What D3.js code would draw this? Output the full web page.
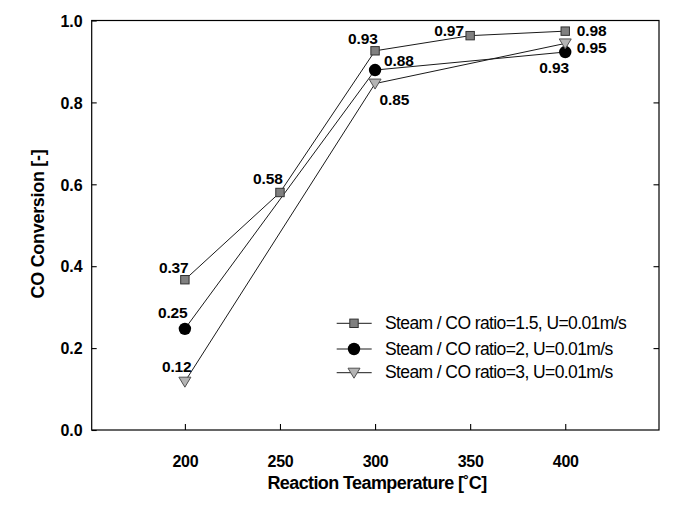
<!DOCTYPE html>
<html>
<head>
<meta charset="utf-8">
<script src="https://cdn.jsdelivr.net/npm/d3@7/dist/d3.min.js"></script>
<style>
  html, body { margin: 0; padding: 0; background: #fff; }
  svg { display: block; }
  text { font-family: "Liberation Sans", Arial, sans-serif; fill: #000; }
</style>
</head>
<body>
<svg id="chart" width="677" height="508"></svg>
<script>
// ---- data ----
const xTicks = [200, 250, 300, 350, 400];
const yTicks = [0.0, 0.2, 0.4, 0.6, 0.8, 1.0];

const tempsS1 = [200, 250, 300, 350, 400];
const valuesS1 = [0.367, 0.58, 0.926, 0.963, 0.974];
const labelsS1 = ["0.37", "0.58", "0.93", "0.97", "0.98"];

const tempsS2 = [200, 300, 400];
const valuesS2 = [0.247, 0.879, 0.923];
const labelsS2 = ["0.25", "0.88", "0.93"];

const tempsS3 = [200, 300, 400];
const valuesS3 = [0.118, 0.846, 0.944];
const labelsS3 = ["0.12", "0.85", "0.95"];

const seriesNames = [
  "Steam / CO ratio=1.5, U=0.01m/s",
  "Steam / CO ratio=2, U=0.01m/s",
  "Steam / CO ratio=3, U=0.01m/s"
];

// ---- layout ----
const L = 91.7, R = 659, T = 20.5, B = 430;
const x = d3.scaleLinear().domain([151, 449.3]).range([L, R]);
const y = d3.scaleLinear().domain([0, 1]).range([B, T]);

const svg = d3.select("#chart");

// frame
svg.append("rect").attr("x", L).attr("y", T).attr("width", R - L).attr("height", B - T)
  .attr("fill", "none").attr("stroke", "#000").attr("stroke-width", 1.2);

// axes (ticks inside)
const yAxisL = d3.axisLeft(y).tickValues(yTicks).tickSizeInner(-5).tickSizeOuter(0).tickPadding(9)
  .tickFormat(d3.format(".1f"));
const gL = svg.append("g").attr("transform", `translate(${L},0)`).call(yAxisL);
gL.select(".domain").remove();
gL.selectAll("text").style("font-size", "16px").style("font-weight", "bold")
  .attr("dy", "0.36em");

const yAxisR = d3.axisRight(y).tickValues(yTicks.filter(v => v > 0 && v < 1)).tickSizeInner(-5.5).tickSizeOuter(0).tickFormat("");
const gR = svg.append("g").attr("transform", `translate(${R},0)`).call(yAxisR);
gR.select(".domain").remove();

const xAxis = d3.axisBottom(x).tickValues(xTicks).tickSizeInner(-6).tickSizeOuter(0).tickPadding(26)
  .tickFormat(d3.format("d"));
const gB = svg.append("g").attr("transform", `translate(0,${B})`).call(xAxis);
gB.select(".domain").remove();
gB.selectAll("text").style("font-size", "16px").style("font-weight", "bold")
  .style("letter-spacing", "-0.3px");

svg.selectAll(".tick line").attr("stroke", "#000").attr("stroke-width", 1.1);

// axis titles
svg.append("text").attr("x", 377).attr("y", 489).attr("text-anchor", "middle")
  .style("font-size", "18px").style("font-weight", "bold").style("letter-spacing", "-0.6px")
  .text("Reaction Teamperature [˚C]");
svg.append("text").attr("transform", "translate(43.5,224) rotate(-90)").attr("text-anchor", "middle")
  .style("font-size", "18px").style("font-weight", "bold").style("letter-spacing", "-0.3px")
  .text("CO Conversion [-]");

// marker drawing
const triPath = "M-6,-4.5L6,-4.5L0,5.5Z";
function drawMarker(g, kind) {
  if (kind === 0) {
    g.append("rect").attr("x", -4.2).attr("y", -4.2).attr("width", 8.4).attr("height", 8.4)
      .attr("fill", "#808080").attr("stroke", "#303030").attr("stroke-width", 1);
  } else if (kind === 1) {
    g.append("circle").attr("r", 6.2).attr("fill", "#000");
  } else {
    g.append("path").attr("d", triPath).attr("fill", "#b4b4b4").attr("stroke", "#505050").attr("stroke-width", 1);
  }
}

const series = [
  { t: tempsS1, v: valuesS1, lab: labelsS1, kind: 0,
    lx: [-26, -27, -27, -36, 11.5], ly: [-7, -8, -6.5, 0, 5] },
  { t: tempsS2, v: valuesS2, lab: labelsS2, kind: 1,
    lx: [-27, 9, -26], ly: [-10.7, -4, 20.6] },
  { t: tempsS3, v: valuesS3, lab: labelsS3, kind: 2,
    lx: [-23, 4.5, 11.5], ly: [-9.7, 21, 10] }
];

const line = d3.line().x(d => x(d[0])).y(d => y(d[1]));

// lines first
series.forEach(s => {
  const pts = s.t.map((t, i) => [t, s.v[i]]);
  svg.append("path").datum(pts).attr("d", line)
    .attr("fill", "none").attr("stroke", "#1a1a1a").attr("stroke-width", 1);
});

// markers & labels
series.forEach(s => {
  s.t.forEach((t, i) => {
    const g = svg.append("g").attr("transform", `translate(${x(t)},${y(s.v[i])})`);
    drawMarker(g, s.kind);
  });
});
series.forEach(s => {
  s.t.forEach((t, i) => {
    svg.append("text").attr("x", x(t) + s.lx[i]).attr("y", y(s.v[i]) + s.ly[i])
      .style("font-size", "15.5px").style("font-weight", "bold").style("letter-spacing", "-0.1px")
      .text(s.lab[i]);
  });
});

// legend
const legY = [323.3, 349, 372.7];
seriesNames.forEach((name, i) => {
  svg.append("line").attr("x1", 336.7).attr("x2", 371.7).attr("y1", legY[i]).attr("y2", legY[i])
    .attr("stroke", "#1a1a1a").attr("stroke-width", 1);
  const g = svg.append("g").attr("transform", `translate(354,${legY[i]})`);
  drawMarker(g, i);
  svg.append("text").attr("x", 385).attr("y", legY[i] + 5.5)
    .style("font-size", "17.5px").style("letter-spacing", "-0.6px")
    .text(name);
});
</script>
</body>
</html>
